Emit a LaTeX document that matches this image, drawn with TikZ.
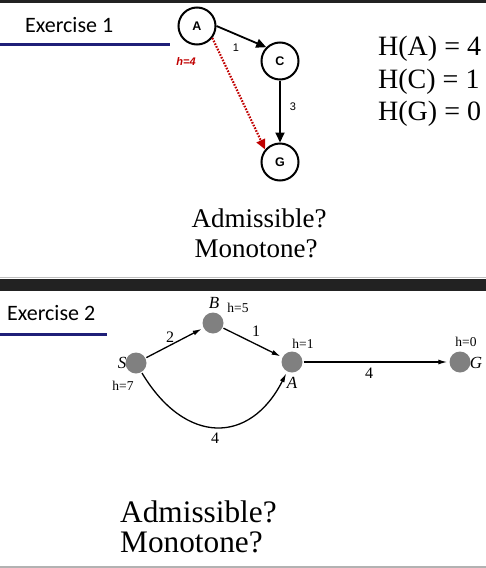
\documentclass[tikz,border=0pt]{standalone}
\usepackage{fontspec}
\setmainfont{Liberation Serif}
\newfontfamily\calib{Carlito}
\newfontfamily\arial{Liberation Sans}
\usetikzlibrary{arrows.meta}
\definecolor{navy}{RGB}{31,31,120}
\definecolor{dred}{RGB}{192,0,0}
\definecolor{band}{RGB}{34,34,34}
\definecolor{dotgray}{RGB}{128,128,128}
\tikzset{
  circnode/.style={circle,draw=black,line width=2pt,minimum size=37pt,inner sep=0pt,font=\arial\bfseries\fontsize{12.5}{12.5}\selectfont},
  dotnode/.style={circle,fill=dotgray,minimum size=21pt,inner sep=0pt},
  exlabel/.style={anchor=base west,inner sep=0pt,font=\calib\fontsize{22}{22}\selectfont},
  bigserif/.style={inner sep=0pt,font=\fontsize{27}{27}\selectfont},
  edgeone/.style={line width=1.8pt,-{Triangle[length=10pt,width=9pt]}},
  edgetwo/.style={line width=1.3pt,-{Latex[length=9pt,width=5pt]},shorten >=2pt,shorten <=1pt},
  smallsans/.style={inner sep=0pt,font=\arial\fontsize{11}{11}\selectfont},
  tlab/.style={inner sep=0pt,font=\fontsize{13.5}{13.5}\selectfont},
  tlet/.style={inner sep=0pt,font=\itshape\fontsize{17}{17}\selectfont},
  tnum/.style={inner sep=0pt,font=\fontsize{16}{16}\selectfont},
}
\begin{document}
\begin{tikzpicture}[x=1pt,y=-1pt]
\useasboundingbox (0,0) rectangle (486,568);
% bands
\fill[band] (0,0) rectangle (486,2.5);
\fill[band] (0,278.5) rectangle (486,291);
\draw[gray!50,line width=1pt] (0,277.5) -- (486,277.5);
\draw[gray!60,line width=1.5pt] (0,567) -- (486,567);
% Exercise 1
\node[exlabel] (ex1) at (25,32) {Exercise 1};
\coordinate (l1a) at (0,44);
\coordinate (l1b) at (170,44);
\draw[navy,line width=3pt] (l1a) -- (l1b);
\node[circnode] (A) at (197,26) {A};
\node[circnode] (C) at (280,61) {C};
\node[circnode] (G) at (280,162) {G};
\draw[edgeone] (A.east) -- (C.north west);
\node[smallsans] (w1) at (236,48) {1};
\draw[edgeone] (C.south) -- (G.north);
\node[smallsans] (w3) at (293,107) {3};
\draw[dred,line width=2.2pt,dash pattern=on 1.6pt off 1.4pt,-{Triangle[length=10pt,width=9pt,fill=dred]}] (A.-38) -- (G.140);
\node[inner sep=0pt,text=dred,font=\arial\bfseries\itshape\fontsize{11}{11}\selectfont] (h4) at (186,62) {h=4};
\node[bigserif,anchor=base west,font=\fontsize{28}{28}\selectfont] (HA) at (378,55) {H(A) = 4};
\node[bigserif,anchor=base west,font=\fontsize{28}{28}\selectfont] (HC) at (378,88) {H(C) = 1};
\node[bigserif,anchor=base west,font=\fontsize{28}{28}\selectfont] (HG) at (378,120) {H(G) = 0};
\node[bigserif,anchor=base] (adm1) at (259,227) {Admissible?};
\node[bigserif,anchor=base] (mon1) at (256,257) {Monotone?};
% Exercise 2
\node[exlabel] (ex2) at (7,320) {Exercise 2};
\coordinate (l2a) at (0,334);
\coordinate (l2b) at (107,334);
\draw[navy,line width=3pt] (l2a) -- (l2b);
\node[dotnode] (S) at (136,363) {};
\node[dotnode] (B) at (213,323) {};
\node[dotnode] (A2) at (292,362) {};
\node[dotnode] (G2) at (460,362) {};
\node[tlet] (Sl) at (122,363) {S};
\node[tlab] (h7) at (123,386) {h=7};
\node[tlet] (Bl) at (214,303) {B};
\node[tlab] (h5) at (238,308) {h=5};
\node[tlab] (h1) at (303,344) {h=1};
\node[tlet] (Al) at (292,383) {A};
\node[tlab] (h0) at (466,342) {h=0};
\node[tlet] (Gl) at (476,363) {G};
\draw[edgetwo] (S) -- (B);
\node[tnum] (e2) at (170,337) {2};
\draw[edgetwo] (B) -- (A2);
\node[tnum] (e1) at (256,331) {1};
\draw[edgetwo] (A2) -- (G2);
\node[tnum] (e4a) at (369,373) {4};
\draw[edgetwo] (S) .. controls (185,445) and (250,445) .. (A2);
\node[tnum] (e4b) at (215,438) {4};
\node[inner sep=0pt,anchor=base west,font=\fontsize{31.3}{31.3}\selectfont] (adm2) at (120,522) {Admissible?};
\node[inner sep=0pt,anchor=base west,font=\fontsize{31.3}{31.3}\selectfont] (mon2) at (120,552) {Monotone?};
\end{tikzpicture}
\end{document}
